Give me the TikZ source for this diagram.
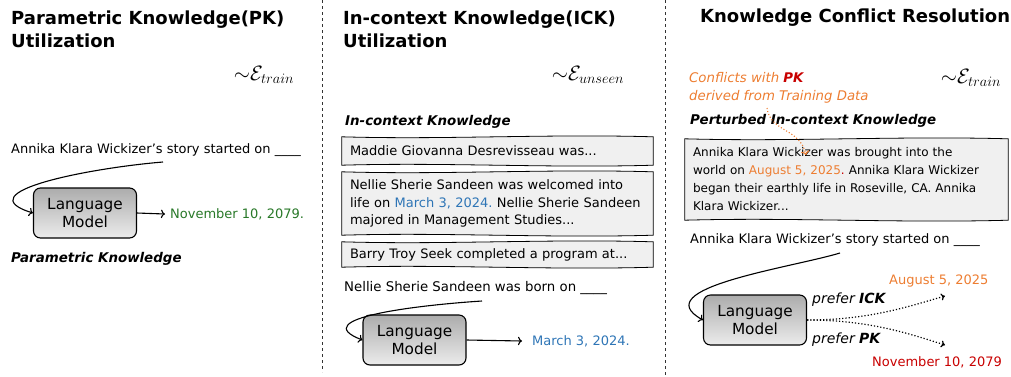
\documentclass[tikz,border=0pt]{standalone}
\usepackage{fontspec}
\setmainfont{DejaVu Sans}
\usetikzlibrary{positioning,calc,backgrounds,arrows.meta}
\definecolor{pkgreen}{RGB}{40,120,40}
\definecolor{ickblue}{RGB}{46,117,182}
\definecolor{ickorange}{RGB}{237,125,49}
\definecolor{pkred}{RGB}{200,0,0}
\frenchspacing
% welliger Rahmen hinter einem Kontext-Knoten
\newcommand{\wellenrand}[1]{%
	\draw[fill=gray!12, line width=.8pt]
	(#1.north west) .. controls ($(#1.north west)!.33!(#1.north east)+(0,3)$)
	and ($(#1.north west)!.66!(#1.north east)+(0,-3)$) .. (#1.north east)
	-- (#1.south east) .. controls ($(#1.south west)!.66!(#1.south east)+(0,3)$)
	and ($(#1.south west)!.33!(#1.south east)+(0,-3)$) .. (#1.south west) -- cycle;}

\begin{document}
\begin{tikzpicture}[x=1pt,y=-1pt,
	txt/.style={anchor=west, inner sep=0pt, font=\fontsize{13}{17.5}\selectfont},
	titel/.style={anchor=north west, inner sep=0pt, align=left, font=\fontsize{18}{23}\selectfont\bfseries},
	kopf/.style={anchor=west, inner sep=0pt, font=\fontsize{13.4}{16}\selectfont\bfseries\itshape},
	verteil/.style={inner sep=0pt, font=\fontsize{22}{26}\selectfont},
	lm/.style={draw, line width=1.1pt, rounded corners=7pt, top color=gray!65, bottom color=gray!15,
		minimum width=103pt, minimum height=50pt, align=center, font=\fontsize{15.3}{18.5}\selectfont},
	ctx/.style={align=left, inner xsep=8pt, inner ysep=0pt, font=\fontsize{13}{17.5}\selectfont},
	pfeil/.style={->, line width=1.1pt},
	wahl/.style={-{To[length=4pt,width=7pt]}, line width=1.2pt, dotted}]
\useasboundingbox (0,0) rectangle (1011,376);
% Trennlinien
\draw[dashed, thick, gray!40!black] (322,0) -- (322,372);
\draw[dashed, thick, gray!40!black] (665,0) -- (665,376);

% Spalte 1: PK
\node[titel] (t1) at (11,11) {Parametric Knowledge(PK)\\Utilization};
\node[verteil] (e1) at (264,75) {${\sim}\mathcal{E}_{train}$};
\node[txt] (q1) at (11,150) {Annika Klara Wickizer’s story started on \_\_\_\_};
\node[lm] (lm1) at (85,213) {Language\\Model};
\node[txt, text=pkgreen] (a1) at (170,214) {November 10, 2079.};
\node[kopf] (k1) at (11,259) {Parametric Knowledge};
\coordinate (s1) at (163,162);
\draw[pfeil] (s1) .. controls (90,168) and (-35,192) .. (lm1.west);
\draw[pfeil] (lm1.east) -- ([xshift=-5pt]a1.west);

% Spalte 2: ICK
\node[titel] (t2) at (343,11) {In-context Knowledge(ICK)\\Utilization};
\node[verteil] (e2) at (588,75) {${\sim}\mathcal{E}_{unseen}$};
\node[kopf] (k2) at (345,122) {In-context Knowledge};
\node[ctx, minimum height=28pt, text width=295pt] (c1) at (497.5,151) {Maddie Giovanna Desrevisseau was...};
\node[ctx, minimum height=63pt, text width=295pt] (c2) at (497.5,203.5) {Nellie Sherie Sandeen was welcomed into\\
	life on \textcolor{ickblue}{March 3, 2024.} Nellie Sherie Sandeen\\majored in Management Studies...};
\node[ctx, minimum height=25pt, text width=295pt] (c3) at (497.5,254.5) {Barry Troy Seek completed a program at...};
\node[txt, font=\fontsize{13.3}{16}\selectfont] (q2) at (344,288) {Nellie Sherie Sandeen was born on \_\_\_\_};
\node[lm] (lm2) at (414.5,340) {Language\\Model};
\node[txt, text=ickblue] (a2) at (532,341) {March 3, 2024.};
\coordinate (s2) at (482,301);
\draw[pfeil] (s2) .. controls (420,305) and (305,318) .. (lm2.west);
\draw[pfeil] (lm2.east) -- ([xshift=-10pt]a2.west);

% Spalte 3: Konflikt
\node[titel, anchor=west] (t3) at (700,18) {Knowledge Conflict Resolution};
\node[verteil] (e3) at (971,78) {${\sim}\mathcal{E}_{train}$};
\node[txt, anchor=north west, align=left, text=ickorange, font=\fontsize{13.3}{18}\selectfont\itshape] (n3) at (689,72)
	{Conflicts with \textcolor{pkred}{\bfseries PK}\\derived from Training Data};
\node[kopf] (k3) at (690,121) {Perturbed In-context Knowledge};
\node[ctx, minimum height=81pt, text width=307pt, font=\fontsize{12}{18}\selectfont] (c4) at (846.5,179.5) {Annika Klara Wickizer was brought into the\\
	world on \textcolor{ickorange}{August 5, 2025}\textcolor{pkred}{.} Annika Klara Wickizer\\
	began their earthly life in Roseville, CA. Annika\\Klara Wickizer...};
\coordinate (n3fuss) at (767,108);
\coordinate (c4ziel) at (806,155);
\node[txt] (q3) at (690,240) {Annika Klara Wickizer’s story started on \_\_\_\_};
\node[lm] (lm3) at (755,320) {Language\\Model};
\node[txt, text=ickorange] (ick) at (889,281) {August 5, 2025};
\node[txt, text=pkred] (pk) at (872,362) {November 10, 2079};
\node[txt, font=\fontsize{14}{16}\selectfont\itshape] (p1) at (812,300) {prefer \textbf{ICK}};
\node[txt, font=\fontsize{14}{16}\selectfont\itshape] (p2) at (812,340) {prefer \textbf{PK}};
\coordinate (s3) at (840,253);
\coordinate (z1) at (945,296);
\coordinate (z2) at (945,345);
\draw[pfeil] (s3) .. controls (790,268) and (645,288) .. (lm3.west);
\draw[wahl] (lm3.east) .. controls (870,320) and (910,306) .. (z1);
\draw[wahl] (lm3.east) .. controls (870,320) and (910,334) .. (z2);

% Rahmen der Kontexte
\begin{scope}[on background layer]
\wellenrand{c1}
\wellenrand{c2}
\wellenrand{c3}
\wellenrand{c4}
\end{scope}
\draw[->, ickorange, line width=1.1pt, dotted] (n3fuss) .. controls (770,132) and (800,128) .. (c4ziel);
\end{tikzpicture}
\end{document}
